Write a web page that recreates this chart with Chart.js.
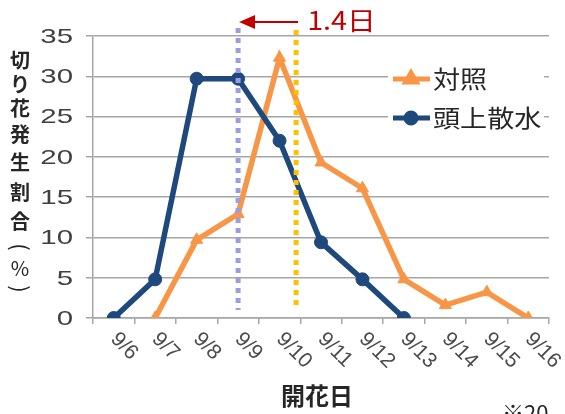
<!DOCTYPE html>
<html><head><meta charset="utf-8">
<script src="https://cdn.jsdelivr.net/npm/chart.js@4/dist/chart.umd.min.js"></script>
<style>html,body{margin:0;padding:0;background:#fff;overflow:hidden}</style>
</head><body>
<canvas id="c" width="565" height="414"></canvas>
<script>
const categories = ['9/6','9/7','9/8','9/9','9/10','9/11','9/12','9/13','9/14','9/15','9/16'];
const controlValues = [null, 0, 9.7, 12.9, 32.3, 19.3, 16.1, 4.8, 1.6, 3.2, 0];
const sprinklerValues = [0, 4.8, 29.7, 29.7, 22.0, 9.4, 4.8, 0, null, null, null];
const yTickValues = [0, 5, 10, 15, 20, 25, 30, 35];
const seriesNames = ['対照', '頭上散水'];
const peakPositions = [3, 4.4]; // 頭上散水, 対照 (category index)
const shiftLabel = '1.4日';
const yTitleChars = ['切','り','花','発','生','割','合','(','%',')'];
const xTitle = '開花日';
const footnote = '※20';

const ORANGE = '#f79646', NAVY = '#1f497d', GRID = '#a6a6a6';
const JP = '"Noto Sans CJK JP", sans-serif';

function stretchedText(ctx, txt, x, y, sx, align) {
  ctx.save();
  ctx.translate(x, y); ctx.scale(sx, 1);
  ctx.textAlign = align; ctx.fillText(txt, 0, 0);
  ctx.restore();
}

const overlay = {
  id: 'overlay',
  afterDatasetsDraw(chart) {
    const ctx = chart.ctx, xs = chart.scales.x;
    ctx.save();
    const dl = [[peakPositions[0], '#9d9de3', 28], [peakPositions[1], '#ffc000', 30]];
    dl.forEach(([pos, col, top]) => {
      const x = xs.getPixelForValue(pos);
      ctx.strokeStyle = col; ctx.lineWidth = 5; ctx.setLineDash([5, 5]);
      ctx.beginPath(); ctx.moveTo(x, top); ctx.lineTo(x, 310); ctx.stroke();
    });
    ctx.setLineDash([]);
    const xa = xs.getPixelForValue(peakPositions[0]), xb = xs.getPixelForValue(peakPositions[1]);
    ctx.strokeStyle = '#c00000'; ctx.fillStyle = '#c00000'; ctx.lineWidth = 2;
    ctx.beginPath(); ctx.moveTo(xb + 2, 22); ctx.lineTo(xa + 14, 22); ctx.stroke();
    ctx.beginPath(); ctx.moveTo(xa + 1, 22); ctx.lineTo(xa + 17, 15); ctx.lineTo(xa + 17, 29); ctx.closePath(); ctx.fill();
    ctx.font = '25px ' + JP; ctx.textBaseline = 'middle';
    stretchedText(ctx, shiftLabel, xb + 11, 20, 1.15, 'left');
    ctx.fillStyle = '#fff'; ctx.fillRect(388, 58, 156, 80);
    const items = [[seriesNames[0], ORANGE, 'triangle', 79], [seriesNames[1], NAVY, 'circle', 118]];
    items.forEach(([name, col, shape, y]) => {
      ctx.strokeStyle = col; ctx.fillStyle = col; ctx.lineWidth = 5;
      ctx.beginPath(); ctx.moveTo(393, y); ctx.lineTo(430, y); ctx.stroke();
      Chart.helpers.drawPoint(ctx, {pointStyle: shape, radius: shape === 'circle' ? 5 : 6, borderWidth: 1}, 411, y);
      ctx.fillStyle = '#262626'; ctx.font = '24px ' + JP; ctx.textBaseline = 'middle';
      stretchedText(ctx, name, 433, y, 1.13, 'left');
    });
    ctx.restore();
  },
  afterDraw(chart) {
    const ctx = chart.ctx, xs = chart.scales.x, ys = chart.scales.y;
    ctx.save();
    ctx.fillStyle = '#404040'; ctx.font = '21px "Liberation Sans", sans-serif'; ctx.textBaseline = 'middle';
    yTickValues.forEach(v => stretchedText(ctx, String(v), 73, ys.getPixelForValue(v) + 1, 1.4, 'right'));
    ctx.fillStyle = '#4a4a4a'; ctx.font = '21px "Liberation Sans", sans-serif';
    ctx.textAlign = 'left'; ctx.textBaseline = 'middle';
    categories.forEach((lab, i) => {
      const x = xs.getPixelForTick(i);
      ctx.save(); ctx.translate(x, 336); ctx.rotate(Math.PI / 4);
      ctx.fillText(lab, 0, 0); ctx.restore();
    });
    ctx.fillStyle = '#262626'; ctx.font = 'bold 24px ' + JP; ctx.textAlign = 'center';
    ctx.fillText(xTitle, 317, 396);
    const ypos = [60, 84, 108, 134, 162, 192, 221, 247, 268, 289];
    yTitleChars.forEach((ch, i) => {
      ctx.save(); ctx.translate(20, ypos[i]);
      if (ch === '(' || ch === ')') { ctx.rotate(Math.PI / 2); ctx.font = '22px ' + JP; }
      else ctx.font = (ch === '%' ? '' : 'bold ') + '20px ' + JP;
      ctx.textAlign = 'center'; ctx.textBaseline = 'middle';
      ctx.fillText(ch, 0, 0); ctx.restore();
    });
    ctx.font = '22px ' + JP; ctx.textAlign = 'left'; ctx.textBaseline = 'top';
    ctx.fillText(footnote, 502, 402);
    ctx.restore();
  }
};

new Chart(document.getElementById('c'), {
  type: 'line',
  data: {
    labels: categories,
    datasets: [
      {label: seriesNames[0], data: controlValues, borderColor: ORANGE, backgroundColor: ORANGE,
       borderWidth: 5.5, pointStyle: 'triangle', pointRadius: 7, pointBorderWidth: 1, tension: 0, order: 1},
      {label: seriesNames[1], data: sprinklerValues, borderColor: NAVY, backgroundColor: NAVY,
       borderWidth: 5.5, pointStyle: 'circle', pointRadius: 6.5, pointBorderWidth: 1, tension: 0, order: 0}
    ]
  },
  options: {
    responsive: false, animation: false, devicePixelRatio: 1,
    layout: {padding: {left: 0, top: 36, right: 16, bottom: 0}},
    plugins: {legend: {display: false}, tooltip: {enabled: false}},
    scales: {
      x: {
        type: 'category', offset: true,
        grid: {offset: true, drawOnChartArea: false, drawTicks: true, tickLength: 6, color: GRID, lineWidth: 1.5},
        border: {color: GRID, width: 1.5},
        ticks: {display: false, autoSkip: false},
        afterFit(s) { s.height = 96; }
      },
      y: {
        min: 0, max: 35,
        ticks: {stepSize: 5, color: 'rgba(0,0,0,0)', font: {size: 21}, padding: 8},
        grid: {color: GRID, lineWidth: 1.5, tickLength: 7},
        border: {color: GRID, width: 1.5},
        afterFit(s) { s.width = 93; }
      }
    }
  },
  plugins: [overlay]
});
</script>
</body></html>
